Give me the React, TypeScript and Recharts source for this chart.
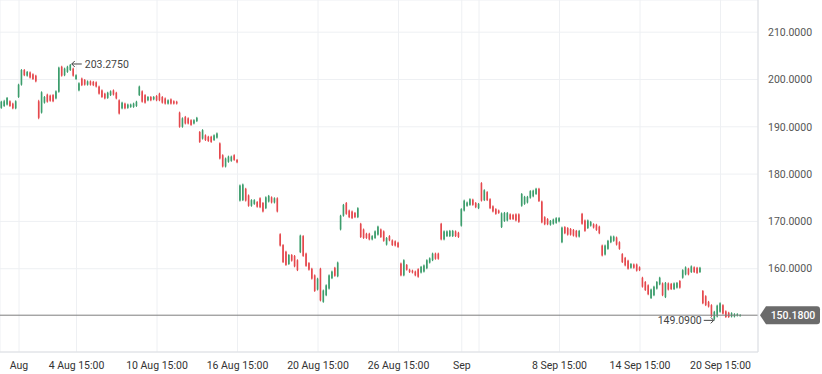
import React from 'react';
import { ComposedChart, Bar, XAxis, YAxis, CartesianGrid, ReferenceLine, ReferenceDot } from 'recharts';

// hourly candles, [open, high, low, close], 7 per trading day
type Candle = [number, number, number, number];

const jul30: Candle[] = [
  [190.5, 195.6, 190.2, 195.3], [194.0, 195.5, 193.8, 195.3], [194.4, 195.7, 194.2, 195.4], [194.7, 196.3, 194.5, 196.1],
  [195.4, 195.6, 194.2, 194.4], [194.9, 195.1, 193.7, 193.9], [193.9, 195.6, 193.7, 195.4],
];

const weekAug2: Candle[] = [
  [196.3, 199.1, 196.1, 198.9], [198.9, 202.2, 198.7, 202.0], [202.0, 202.2, 200.7, 200.9], [200.8, 201.8, 200.6, 201.6],
  [201.5, 201.7, 200.2, 200.4], [201.1, 201.3, 199.9, 200.1], [200.8, 201.0, 199.4, 199.6],
  [195.4, 195.7, 191.6, 191.9], [193.0, 197.5, 192.8, 197.3], [195.1, 196.5, 194.9, 196.3], [196.8, 197.0, 195.1, 195.3],
  [196.6, 196.8, 195.3, 195.5], [196.7, 196.9, 195.2, 195.4], [196.0, 197.7, 195.8, 197.5],
  [197.4, 202.7, 197.2, 202.5], [202.7, 202.9, 200.6, 200.8], [200.9, 202.5, 200.7, 202.3], [201.6, 202.9, 201.4, 202.7],
  [202.0, 203.275, 201.8, 203.1], [202.3, 202.5, 200.6, 200.8], [200.1, 201.1, 199.9, 200.9],
  [197.7, 199.4, 197.5, 199.2], [200.2, 200.4, 198.6, 198.8], [199.9, 200.1, 198.7, 198.9], [198.9, 199.8, 198.7, 199.6],
  [199.6, 199.8, 198.7, 198.9], [199.5, 199.7, 198.6, 198.8], [199.4, 199.6, 198.3, 198.5],
  [198.5, 198.7, 196.8, 197.0], [197.7, 197.9, 196.1, 196.3], [197.0, 197.2, 195.8, 196.0], [196.1, 197.4, 195.9, 197.2],
  [196.7, 197.7, 196.5, 197.5], [197.7, 197.9, 196.6, 196.8], [197.2, 197.4, 195.8, 196.0],
];

const weekAug9: Candle[] = [
  [195.6, 195.8, 192.6, 192.8], [193.9, 195.3, 193.7, 195.1], [194.9, 195.1, 193.7, 193.9], [194.0, 194.9, 193.8, 194.7],
  [194.2, 194.9, 194.0, 194.7], [194.2, 195.1, 194.0, 194.9], [194.4, 195.5, 194.2, 195.3],
  [196.7, 198.7, 196.5, 198.5], [197.5, 197.7, 195.1, 195.3], [196.7, 196.9, 194.9, 195.1], [195.6, 196.5, 195.4, 196.3],
  [196.3, 196.5, 195.4, 195.6], [195.8, 196.5, 195.6, 196.3], [196.5, 196.7, 195.4, 195.6],
  [197.0, 197.2, 195.4, 195.6], [196.3, 196.5, 194.9, 195.1], [196.0, 196.2, 194.7, 194.9], [194.9, 195.8, 194.7, 195.6],
  [195.8, 196.0, 194.7, 194.9], [195.4, 195.6, 194.7, 194.9], [195.3, 195.5, 194.7, 194.9],
  [193.0, 193.2, 189.8, 190.0], [190.0, 192.0, 189.8, 191.8], [192.1, 192.3, 190.5, 190.7], [191.8, 192.0, 190.5, 190.7],
  [191.4, 191.6, 190.2, 190.4], [190.7, 191.6, 190.5, 191.4], [191.2, 192.1, 191.0, 191.9],
  [188.9, 189.1, 186.6, 186.8], [187.5, 189.5, 187.3, 189.3], [188.2, 188.4, 187.0, 187.2], [187.9, 188.1, 186.8, 187.0],
  [187.9, 188.1, 186.6, 186.8], [187.2, 188.4, 187.0, 188.2], [187.7, 188.8, 187.5, 188.6],
];

const weekAug16: Candle[] = [
  [186.5, 186.7, 183.1, 183.3], [184.0, 184.2, 181.4, 181.6], [181.6, 183.5, 181.4, 183.3], [182.6, 183.9, 182.4, 183.7],
  [182.8, 183.9, 182.6, 183.7], [184.0, 184.2, 182.8, 183.0], [183.0, 183.2, 182.3, 182.5],
  [174.4, 177.8, 174.2, 177.6], [174.5, 178.0, 174.3, 177.8], [176.9, 177.1, 174.2, 174.4], [175.5, 175.7, 173.1, 173.3],
  [173.3, 174.7, 173.1, 174.5], [173.7, 174.7, 173.5, 174.5], [174.1, 174.3, 172.9, 173.1],
  [174.9, 175.1, 172.8, 173.0], [173.9, 174.1, 171.9, 172.1], [172.8, 175.3, 172.6, 175.1], [174.2, 175.6, 174.0, 175.4],
  [175.1, 175.3, 173.8, 174.0], [174.0, 175.1, 173.8, 174.9], [174.9, 175.1, 171.9, 172.1],
  [167.3, 167.5, 164.7, 164.9], [165.0, 165.2, 161.2, 161.4], [163.6, 163.8, 160.6, 160.8], [161.0, 163.1, 160.8, 162.9],
  [162.9, 163.1, 161.5, 161.7], [162.7, 162.9, 160.3, 160.5], [161.8, 162.0, 159.5, 159.7],
  [163.5, 167.2, 163.3, 167.0], [166.9, 167.1, 162.5, 162.7], [163.2, 163.4, 160.4, 160.6], [161.2, 161.4, 159.6, 159.8],
  [160.0, 160.2, 157.7, 157.9], [158.6, 158.8, 155.1, 155.3], [155.6, 158.1, 155.4, 157.9],
];

const weekAug23: Candle[] = [
  [160.0, 160.2, 153.1, 153.3], [153.0, 155.6, 152.8, 155.4], [154.4, 156.7, 154.2, 156.5], [155.8, 158.8, 155.6, 158.6],
  [158.0, 159.6, 157.8, 159.4], [160.2, 160.4, 158.3, 158.5], [158.4, 161.5, 158.2, 161.3],
  [168.3, 171.4, 168.1, 171.2], [171.2, 173.7, 171.0, 173.5], [173.9, 174.1, 171.4, 171.6], [172.3, 172.5, 170.7, 170.9],
  [172.1, 172.3, 170.5, 170.7], [171.8, 172.0, 170.7, 170.9], [170.9, 173.0, 170.7, 172.8],
  [169.5, 169.7, 166.5, 166.7], [168.3, 168.5, 166.3, 166.5], [167.4, 167.6, 166.3, 166.5], [167.4, 167.6, 166.0, 166.2],
  [166.2, 167.1, 166.0, 166.9], [166.5, 168.1, 166.3, 167.9], [167.2, 169.1, 167.0, 168.9],
  [168.3, 168.5, 166.5, 166.7], [167.9, 168.1, 165.7, 165.9], [165.1, 166.7, 164.9, 166.5], [166.9, 167.1, 165.8, 166.0],
  [166.0, 166.2, 164.8, 165.0], [165.8, 166.0, 164.7, 164.9], [165.5, 165.7, 164.4, 164.6],
  [161.1, 161.3, 158.4, 158.6], [158.6, 162.0, 158.4, 161.8], [160.8, 161.0, 159.6, 159.8], [159.8, 160.0, 159.1, 159.3],
  [159.6, 159.8, 159.0, 159.2], [159.4, 159.6, 158.4, 158.6], [159.9, 160.1, 158.1, 158.3],
];

const weekAug30: Candle[] = [
  [159.2, 160.6, 159.0, 160.4], [159.4, 160.9, 159.2, 160.7], [160.1, 162.0, 159.9, 161.8], [161.3, 162.4, 161.1, 162.2],
  [161.8, 163.4, 161.6, 163.2], [163.2, 163.4, 161.9, 162.1], [163.2, 163.4, 161.9, 162.1],
  [169.5, 169.7, 166.0, 166.2], [166.2, 168.1, 166.0, 167.9], [166.9, 168.1, 166.7, 167.9], [166.9, 168.2, 166.7, 168.0],
  [166.9, 168.2, 166.7, 168.0], [167.9, 168.1, 166.7, 166.9], [167.6, 167.8, 166.5, 166.7],
  [169.1, 172.8, 168.9, 172.6], [172.3, 174.6, 172.1, 174.4], [173.3, 174.2, 173.1, 174.0], [173.5, 174.9, 173.3, 174.7],
  [174.6, 174.8, 173.3, 173.5], [173.9, 174.1, 172.8, 173.0], [172.8, 173.9, 172.6, 173.7],
  [178.1, 178.3, 174.2, 174.4], [174.5, 176.8, 174.3, 176.6], [176.2, 176.4, 174.3, 174.5], [174.7, 174.9, 172.6, 172.8],
  [173.2, 173.4, 171.9, 172.1], [172.6, 172.8, 171.4, 171.6], [172.3, 172.5, 171.6, 171.8],
  [168.8, 171.9, 168.6, 171.7], [170.1, 172.0, 169.9, 171.8], [170.2, 172.0, 170.0, 171.8], [171.5, 171.7, 170.3, 170.5],
  [171.4, 171.6, 170.3, 170.5], [171.5, 171.7, 170.0, 170.2], [171.5, 171.7, 169.7, 169.9],
];

const weekSep7: Candle[] = [
  [173.3, 176.0, 173.1, 175.8], [173.7, 175.4, 173.5, 175.2], [174.0, 175.4, 173.8, 175.2], [175.0, 176.6, 174.8, 176.4],
  [175.3, 176.7, 175.1, 176.5], [175.8, 177.1, 175.6, 176.9], [176.9, 177.1, 174.1, 174.3],
  [174.2, 174.4, 169.6, 169.8], [170.9, 171.1, 169.2, 169.4], [170.5, 170.7, 169.2, 169.4], [169.3, 170.3, 169.1, 170.1],
  [169.5, 170.6, 169.3, 170.4], [169.7, 170.9, 169.5, 170.7], [170.0, 170.9, 169.8, 170.7],
  [165.6, 168.9, 165.4, 168.7], [168.8, 169.0, 167.3, 167.5], [168.6, 168.8, 167.0, 167.2], [168.4, 168.6, 167.0, 167.2],
  [168.2, 168.4, 166.8, 167.0], [168.0, 168.2, 166.6, 166.8], [166.8, 168.2, 166.6, 168.0],
  [171.6, 171.8, 169.3, 169.5], [170.2, 170.4, 167.8, 168.0], [168.6, 170.4, 168.4, 170.2], [169.1, 170.1, 168.9, 169.9],
  [169.4, 169.6, 168.5, 168.7], [169.3, 169.5, 168.0, 168.2], [168.9, 169.1, 167.3, 167.5],
];

const weekSep13: Candle[] = [
  [164.9, 165.1, 162.6, 162.8], [163.0, 165.1, 162.8, 164.9], [164.2, 166.1, 164.0, 165.9], [165.6, 167.0, 165.4, 166.8],
  [165.9, 167.0, 165.7, 166.8], [166.6, 166.8, 164.9, 165.1], [165.6, 165.8, 164.0, 164.2],
  [163.1, 163.3, 161.2, 161.4], [162.3, 162.5, 160.5, 160.7], [161.7, 161.9, 159.8, 160.0], [160.2, 161.2, 160.0, 161.0],
  [160.9, 161.1, 160.0, 160.2], [160.9, 161.1, 159.4, 159.6], [160.3, 160.5, 159.5, 159.7],
  [158.1, 158.3, 156.0, 156.2], [157.2, 157.4, 155.3, 155.5], [156.5, 156.7, 154.4, 154.6], [153.8, 155.8, 153.6, 155.6],
  [154.4, 156.4, 154.2, 156.2], [155.8, 157.4, 155.6, 157.2], [156.7, 158.3, 156.5, 158.1],
  [156.9, 157.1, 154.2, 154.4], [154.0, 157.2, 153.8, 157.0], [156.9, 157.1, 155.4, 155.6], [156.8, 157.0, 155.5, 155.7],
  [155.7, 157.1, 155.5, 156.9], [156.0, 157.2, 155.8, 157.0], [157.4, 157.6, 155.8, 156.0],
  [158.1, 159.9, 157.9, 159.7], [158.8, 160.5, 158.6, 160.3], [160.0, 160.2, 158.6, 158.8], [159.3, 160.7, 159.1, 160.5],
  [160.3, 160.5, 159.1, 159.3], [160.2, 160.4, 158.9, 159.1], [159.3, 160.4, 159.1, 160.2],
];

const weekSep20: Candle[] = [
  [155.3, 155.5, 152.5, 152.7], [154.2, 154.4, 152.1, 152.3], [153.0, 153.2, 151.8, 152.0], [152.3, 152.5, 149.8, 150.0],
  [149.4, 151.1, 149.09, 150.9], [149.9, 152.4, 149.7, 152.2], [150.9, 152.9, 150.7, 152.7],
  [152.3, 152.5, 150.3, 150.5], [151.0, 151.2, 149.6, 149.8], [150.7, 150.9, 149.6, 149.8], [149.9, 150.8, 149.7, 150.6],
  [149.9, 150.6, 149.7, 150.4], [150.1, 150.6, 149.9, 150.4], [150.1, 150.4, 149.9, 150.18],
];

// candle index 0 = 2 Aug, first hour
const firstIndex = -7;
const tickIndex = [0, 20, 48, 76, 104, 132, 154, 160, 188, 216, 244];
const tickLabels = ['Aug', '4 Aug 15:00', '10 Aug 15:00', '16 Aug 15:00', '20 Aug 15:00', '26 Aug 15:00', 'Sep', '', '8 Sep 15:00', '14 Sep 15:00', '20 Sep 15:00'];
const priceTicks = [160, 170, 180, 190, 200, 210];

const UP = '#3c9d6c';
const DOWN = '#e5484d';
const FONT = 'Roboto, sans-serif';

const candles = [...jul30, ...weekAug2, ...weekAug9, ...weekAug16, ...weekAug23, ...weekAug30, ...weekSep7, ...weekSep13, ...weekSep20].map(
  (c, k) => ({ i: k + firstIndex, open: c[0], high: c[1], low: c[2], close: c[3], range: [c[2], c[1]] })
);

const highest = candles.reduce((a, b) => (b.high > a.high ? b : a));
const lowest = candles.reduce((a, b) => (b.low < a.low ? b : a));
const last = candles[candles.length - 1];

const CandleShape = (props: any) => {
  const { x, y, width, height, payload } = props;
  if (x == null || y == null) return null;
  const top = Math.min(y, y + height);
  const h = Math.abs(height);
  const span = payload.high - payload.low || 1;
  const py = (v: number) => top + ((payload.high - v) / span) * h;
  const cx = x + width / 2;
  const up = payload.close >= payload.open;
  const color = up ? UP : DOWN;
  const bTop = py(Math.max(payload.open, payload.close));
  const bBot = py(Math.min(payload.open, payload.close));
  return (
    <g>
      <line x1={cx} x2={cx} y1={top} y2={top + h} stroke={color} strokeWidth={1} />
      <rect x={cx - 0.8} y={bTop} width={1.6} height={Math.max(1, bBot - bTop)} fill={color} />
    </g>
  );
};

const HighMark = (props: any) => {
  const { cx, cy } = props;
  return (
    <g>
      <line x1={cx + 1} x2={cx + 11} y1={cy} y2={cy} stroke="#444" strokeWidth={1} />
      <path d={`M${cx + 4},${cy - 3} L${cx + 1},${cy} L${cx + 4},${cy + 3}`} fill="none" stroke="#444" strokeWidth={1} />
      <text x={cx + 14} y={cy} dy="0.35em" fontSize={10.5} fill="#444" fontFamily={FONT}>
        {highest.high.toFixed(4)}
      </text>
    </g>
  );
};

const LowMark = (props: any) => {
  const { cx, cy } = props;
  return (
    <g>
      <line x1={cx - 11} x2={cx - 1} y1={cy} y2={cy} stroke="#444" strokeWidth={1} />
      <path d={`M${cx - 4},${cy - 3} L${cx - 1},${cy} L${cx - 4},${cy + 3}`} fill="none" stroke="#444" strokeWidth={1} />
      <text x={cx - 13} y={cy} dy="0.35em" textAnchor="end" fontSize={10.5} fill="#444" fontFamily={FONT}>
        {lowest.low.toFixed(4)}
      </text>
    </g>
  );
};

const PriceBadge = (props: any) => {
  const { viewBox } = props;
  if (!viewBox) return null;
  const y = viewBox.y;
  const x0 = viewBox.x + viewBox.width + 2;
  return (
    <g>
      <path
        d={`M${x0},${y} L${x0 + 6},${y - 9} L${x0 + 57},${y - 9} Q${x0 + 60},${y - 9} ${x0 + 60},${y - 6} L${x0 + 60},${y + 6} Q${x0 + 60},${y + 9} ${x0 + 57},${y + 9} L${x0 + 6},${y + 9} Z`}
        fill="#6b6b6b"
      />
      <text x={x0 + 33} y={y} dy="0.35em" textAnchor="middle" fontSize={10.5} fontWeight={500} fill="#fff" fontFamily={FONT}>
        {last.close.toFixed(4)}
      </text>
    </g>
  );
};

export default function App() {
  return (
    <div style={{ position: 'absolute', left: 0, top: 0, fontFamily: FONT }}>
      <ComposedChart width={822} height={374} data={candles} margin={{ top: 0, right: 0, bottom: 0, left: 0 }}>
        <CartesianGrid stroke="#eef0f3" />
        <XAxis
          dataKey="i"
          type="number"
          domain={[-6.61, 257.04]}
          allowDataOverflow
          ticks={tickIndex}
          interval={0}
          tickFormatter={(v: number) => tickLabels[tickIndex.indexOf(v)] ?? ''}
          height={22}
          axisLine={{ stroke: '#dcdfe3' }}
          tickLine={false}
          tick={{ fontSize: 10.5, fill: '#333', fontFamily: FONT }}
          tickMargin={4}
        />
        <YAxis
          orientation="right"
          type="number"
          domain={[142.4, 216.8]}
          allowDataOverflow
          ticks={priceTicks}
          interval={0}
          width={64}
          tickFormatter={(v: number) => v.toFixed(4)}
          axisLine={{ stroke: '#dcdfe3' }}
          tickLine={false}
          tick={{ fontSize: 10.5, fill: '#555', fontFamily: FONT }}
          tickMargin={4}
        />
        <ReferenceLine y={last.close} stroke="#7d7d7d" strokeWidth={1} label={<PriceBadge />} />
        <Bar dataKey="range" barSize={2} shape={<CandleShape />} isAnimationActive={false} />
        <ReferenceDot x={highest.i} y={highest.high} r={0} shape={<HighMark />} />
        <ReferenceDot x={lowest.i} y={lowest.low} r={0} shape={<LowMark />} />
      </ComposedChart>
    </div>
  );
}
